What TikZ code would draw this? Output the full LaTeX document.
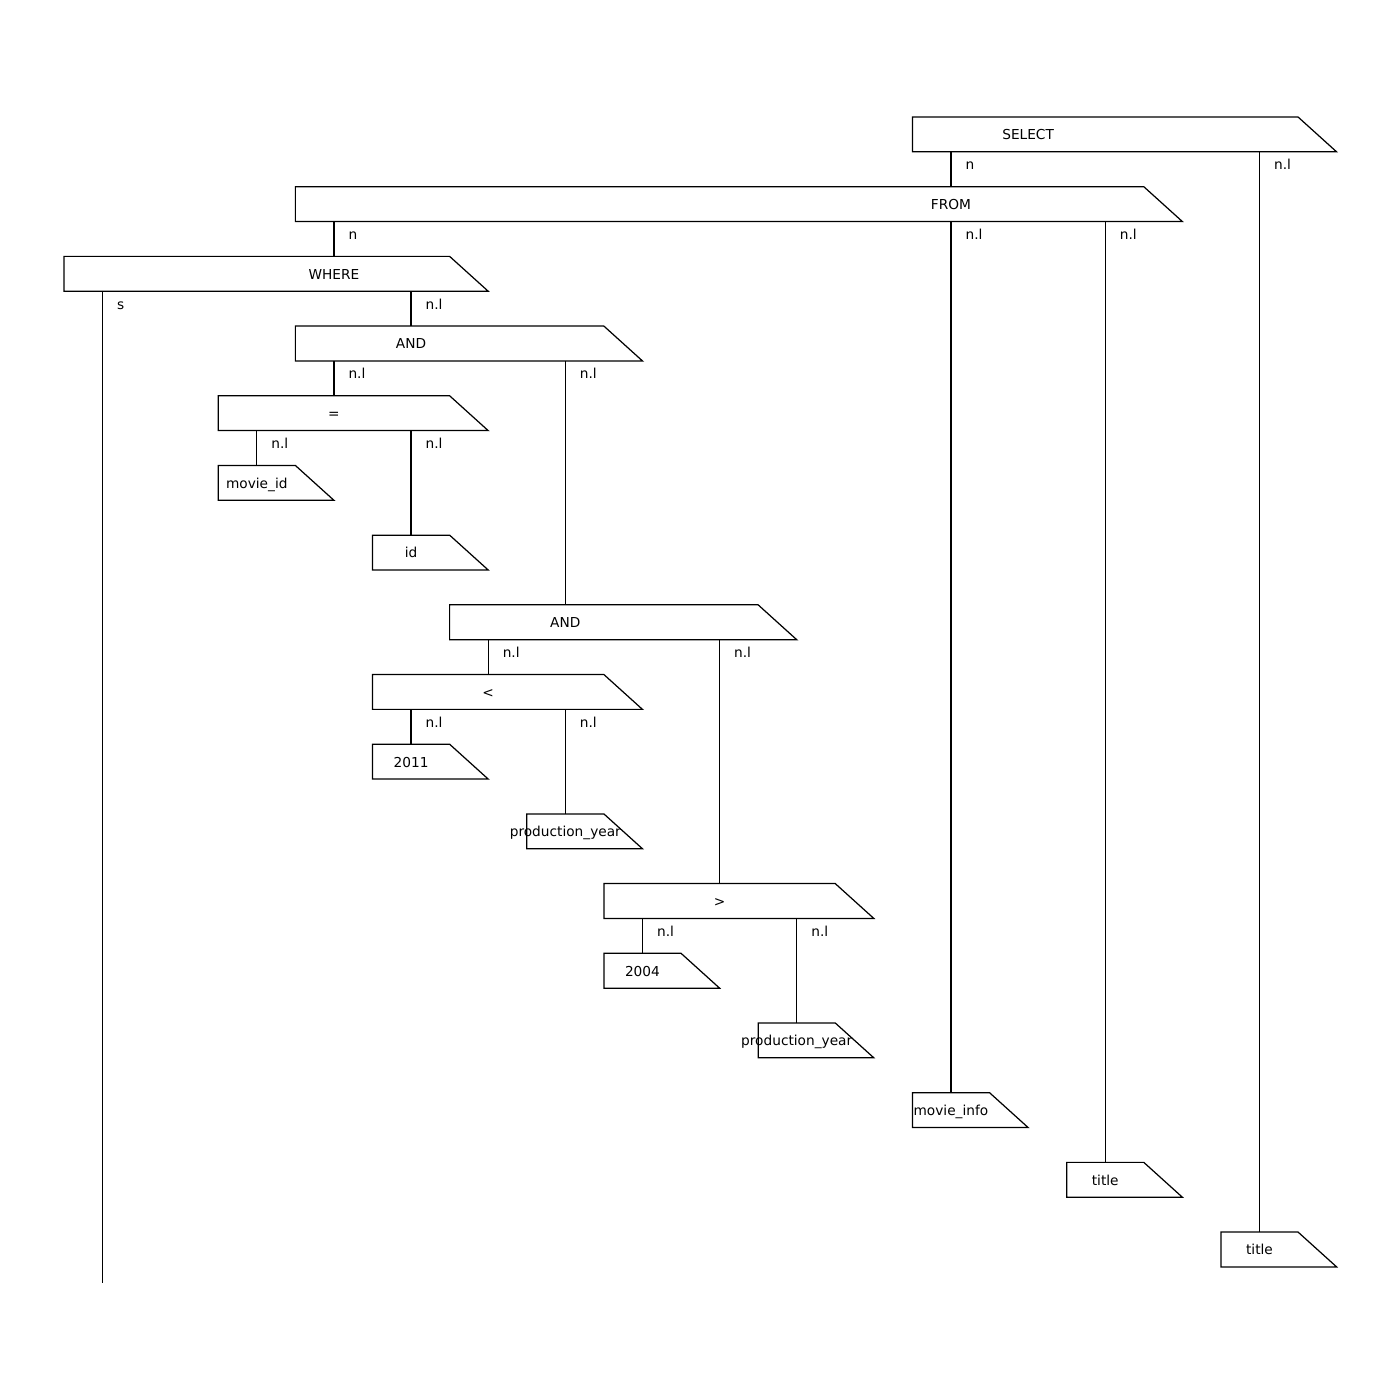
\documentclass[tikz,border=0pt]{standalone}
\usepackage{fontspec}
\setmainfont{DejaVu Sans}
\begin{document}
\begin{tikzpicture}[
  x=0.7714cm, y=-1.394cm,
  line width=0.7pt,
  % box with a slanted upper right corner; #1 = width in grid columns
  qbox/.style={shape=rectangle, draw=none, inner sep=0pt, outer sep=0pt,
    anchor=north west, minimum height=0.697cm, minimum width=#1*0.7714cm,
    append after command={
      \pgfextra{\draw[line width=0.7pt, line join=miter]
        (\tikzlastnode.north west) -- ([xshift=-0.7714cm]\tikzlastnode.north east)
        -- (\tikzlastnode.south east) -- (\tikzlastnode.south west) -- cycle;}}},
  btext/.style={font=\fontsize{7.8pt}{9pt}\selectfont, inner sep=0pt,
    text height=0.73em, text depth=0pt, anchor=center},
  elabel/.style={font=\fontsize{7.8pt}{9pt}\selectfont, inner sep=0pt,
    anchor=base west, xshift=0.28cm, yshift=-0.36cm},
  conn/.style={line width=0.7pt}
]
\useasboundingbox (-1.659,-1.679) rectangle (34.64,18.41);

% column references
\foreach \k in {0,...,34} {\coordinate (c\k) at (\k,0);}

% boxes
\node[qbox=11] (sel)   at (22,0)  {};
\node[qbox=23] (from)  at (6,1)   {};
\node[qbox=11] (where) at (0,2)   {};
\node[qbox=9]  (and1)  at (6,3)   {};
\node[qbox=7]  (eq)    at (4,4)   {};
\node[qbox=3]  (mid)   at (4,5)   {};
\node[qbox=3]  (id)    at (8,6)   {};
\node[qbox=9]  (and2)  at (10,7)  {};
\node[qbox=7]  (lt)    at (8,8)   {};
\node[qbox=3]  (ya)    at (8,9)   {};
\node[qbox=3]  (pya)   at (12,10) {};
\node[qbox=7]  (gt)    at (14,11) {};
\node[qbox=3]  (yb)    at (14,12) {};
\node[qbox=3]  (pyb)   at (18,13) {};
\node[qbox=3]  (mi)    at (22,14) {};
\node[qbox=3]  (ta)    at (26,15) {};
\node[qbox=3]  (tb)    at (30,16) {};

% box texts
\node[btext] (sel-t)   at (25,0.235) {SELECT};
\node[btext] (from-t)  at (23,1.235) {FROM};
\node[btext] (where-t) at (7,2.235)  {WHERE};
\node[btext] (and1-t)  at (9,3.235)  {AND};
\node[btext] (eq-t)    at (7,4.235)  {=};
\node[btext] (mid-t)   at (5,5.235)  {movie\_id};
\node[btext] (id-t)    at (9,6.235)  {id};
\node[btext] (and2-t)  at (13,7.235) {AND};
\node[btext] (lt-t)    at (11,8.235) {<};
\node[btext] (ya-t)    at (9,9.235)  {2011};
\node[btext] (pya-t)   at (13,10.235) {production\_year};
\node[btext] (gt-t)    at (17,11.235) {>};
\node[btext] (yb-t)    at (15,12.235) {2004};
\node[btext] (pyb-t)   at (19,13.235) {production\_year};
\node[btext] (mi-t)    at (23,14.235) {movie\_info};
\node[btext] (ta-t)    at (27,15.235) {title};
\node[btext] (tb-t)    at (31,16.235) {title};

% free end of the WHERE "s" branch
\coordinate (send) at (1,16.73);

% connectors
\draw[conn] (sel.south -| c23)   node[elabel] (l1)  {n}   -- (from.north -| c23);
\draw[conn] (sel.south -| c31)   node[elabel] (l2)  {n.l} -- (tb.north -| c31);
\draw[conn] (from.south -| c7)   node[elabel] (l3)  {n}   -- (where.north -| c7);
\draw[conn] (from.south -| c23)  node[elabel] (l4)  {n.l} -- (mi.north -| c23);
\draw[conn] (from.south -| c27)  node[elabel] (l5)  {n.l} -- (ta.north -| c27);
\draw[conn] (where.south -| c1)  node[elabel] (l6)  {s}   -- (send);
\draw[conn] (where.south -| c9)  node[elabel] (l7)  {n.l} -- (and1.north -| c9);
\draw[conn] (and1.south -| c7)   node[elabel] (l8)  {n.l} -- (eq.north -| c7);
\draw[conn] (and1.south -| c13)  node[elabel] (l9)  {n.l} -- (and2.north -| c13);
\draw[conn] (eq.south -| c5)     node[elabel] (l10) {n.l} -- (mid.north -| c5);
\draw[conn] (eq.south -| c9)     node[elabel] (l11) {n.l} -- (id.north -| c9);
\draw[conn] (and2.south -| c11)  node[elabel] (l12) {n.l} -- (lt.north -| c11);
\draw[conn] (and2.south -| c17)  node[elabel] (l13) {n.l} -- (gt.north -| c17);
\draw[conn] (lt.south -| c9)     node[elabel] (l14) {n.l} -- (ya.north -| c9);
\draw[conn] (lt.south -| c13)    node[elabel] (l15) {n.l} -- (pya.north -| c13);
\draw[conn] (gt.south -| c15)    node[elabel] (l16) {n.l} -- (yb.north -| c15);
\draw[conn] (gt.south -| c19)    node[elabel] (l17) {n.l} -- (pyb.north -| c19);
\end{tikzpicture}
\end{document}
